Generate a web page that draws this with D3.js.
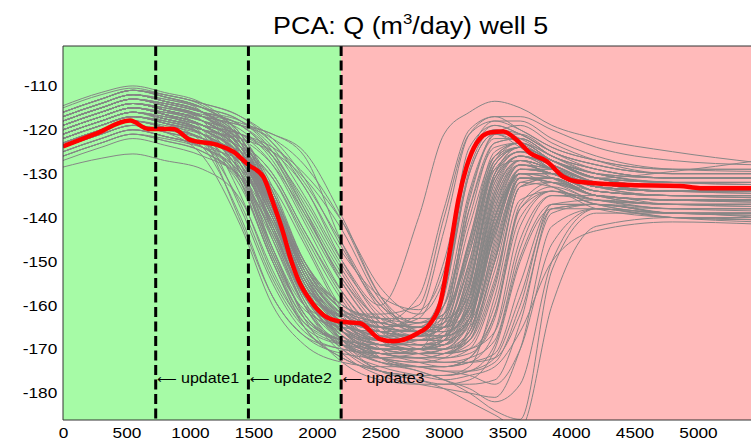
<!DOCTYPE html>
<html>
<head>
<meta charset="utf-8">
<script src="https://cdn.jsdelivr.net/npm/d3@7"></script>
<style>
  body { margin: 0; background: #fff; }
  text { font-family: "Liberation Sans", Arial, sans-serif; }
</style>
</head>
<body>
<div id="chart"></div>
<script>
// days at which each gray realization is sampled
const knotDays = [0, 300, 550, 800, 1100, 1400, 1650, 1900, 2200, 2500, 2800, 3000, 3200, 3400, 3600, 3850, 4200, 4800, 5475];

// gray ensemble members (Q, m3/day)
const grayRuns = [
  [-116,-113,-111,-112.5,-115,-121,-133,-150,-161,-165,-166,-164,-147,-128,-124,-127,-130,-131,-131],
  [-118,-115,-113,-114,-116,-119,-126,-138,-153,-164,-168,-168,-163,-140,-128,-130,-133,-134,-134],
  [-121,-118,-116,-118,-121,-130,-148,-162,-169,-172,-172,-171,-168,-150,-131,-132,-135,-136,-136.5],
  [-119,-116,-114,-115.5,-118,-124,-137,-153,-164,-169,-170,-158,-130,-121,-124,-129,-132,-133,-133.5],
  [-123,-120,-118,-119.5,-122,-127,-140,-156,-167,-172,-174,-174,-173,-166,-142,-134,-136,-137,-137.5],
  [-117,-114,-112,-113,-115,-118,-124,-135,-150,-160,-140,-121,-116,-113.5,-115,-119,-122,-125,-127.5],
  [-120,-117,-115,-116.5,-119,-125,-138,-154,-163,-166,-167,-165,-150,-127,-123,-126,-130,-132,-132.5],
  [-125,-122,-120,-121.5,-124,-133,-150,-165,-172,-175,-176,-176,-175,-172,-158,-138,-137,-139,-139.5],
  [-118,-115,-113,-114.5,-117,-123,-136,-152,-163,-168,-169,-168,-158,-133,-126,-128,-132,-134,-134],
  [-122,-119,-117,-118,-120,-123,-130,-143,-158,-168,-171,-171,-167,-145,-129,-130,-134,-135,-135.5],
  [-115,-112,-110.5,-112,-114.5,-123,-142,-157,-162,-162,-160,-140,-121,-118,-120,-124,-127,-129,-129],
  [-127,-124,-122,-123.5,-126,-131,-144,-160,-171,-176,-178,-179,-180,-181,-170,-142,-138,-140,-140.5],
  [-119,-116,-114,-115,-117,-119,-122,-128,-141,-158,-164,-162,-135,-122,-122,-126,-129,-131,-131],
  [-121,-118,-116,-117.5,-120,-126,-139,-155,-163,-166,-167,-167,-164,-148,-130,-130,-134,-135,-135],
  [-124,-121,-119,-120.5,-123,-129,-141,-156,-166,-170,-170,-167,-148,-129,-127,-131,-135,-137,-137],
  [-116,-113,-111,-112,-114,-117,-123,-133,-148,-158,-161,-152,-124,-119,-121,-125,-128,-130,-130],
  [-120,-117,-115,-116.5,-119,-128,-147,-162,-169,-172,-173,-173,-172,-168,-147,-135,-136,-138,-138],
  [-122,-119,-117,-118.5,-121,-127,-139,-155,-164,-168,-168,-167,-156,-130,-124,-127,-131,-133,-133.5],
  [-118,-115,-113,-114.5,-117,-122,-135,-152,-165,-170,-171,-171,-169,-155,-133,-131,-135,-136,-136],
  [-126,-123,-121,-122,-124,-127,-133,-146,-162,-172,-175,-177,-179,-182,-178,-150,-138,-140,-141],
  [-117,-114,-112,-113.5,-116,-122,-135,-151,-161,-164,-165,-156,-127,-119,-121,-125,-128,-130,-130],
  [-123,-120,-118,-119.5,-122,-131,-149,-163,-168,-169,-169,-169,-164,-140,-130,-131,-135,-136,-136],
  [-119,-116,-114,-115,-117,-120,-127,-140,-155,-165,-167,-165,-145,-125,-123,-127,-131,-132,-132],
  [-121,-118,-116,-117.5,-120,-126,-138,-154,-166,-171,-172,-172,-171,-163,-138,-133,-136,-137,-137.5],
  [-120,-117,-115,-116.5,-119,-125,-136,-150,-160,-163,-164,-162,-148,-127,-124,-127,-131,-133,-133],
  [-124,-121,-119,-120,-122,-125,-131,-144,-159,-168,-170,-170,-166,-143,-130,-130,-133,-134,-134.5],
  [-117,-114,-112,-113.5,-116,-125,-143,-158,-165,-166,-166,-165,-155,-130,-125,-127,-131,-132,-132],
  [-122,-119,-117,-118.5,-121,-127,-140,-157,-168,-173,-174,-175,-175,-173,-160,-137,-137,-139,-139],
  [-118,-115,-113,-114,-116,-119,-125,-137,-152,-164,-168,-164,-138,-123,-122,-126,-130,-131,-131],
  [-125,-122,-120,-121.5,-124,-130,-142,-157,-167,-171,-171,-171,-167,-150,-132,-133,-137,-138,-138],
  [-119,-116,-114,-115.5,-118,-124,-137,-153,-164,-168,-169,-169,-162,-138,-127,-129,-133,-134,-134],
  [-121,-118,-116,-117,-119,-121,-124,-130,-141,-156,-162,-154,-127,-120,-122,-126,-129,-131,-131],
  [-128.5,-126.5,-125.5,-127,-129,-136,-152,-165,-172,-175,-176,-176,-174,-158,-136,-134,-138,-140,-140.5],
  [-120,-117,-115,-116.5,-119,-125,-138,-154,-165,-169,-170,-168,-152,-130,-125,-129,-133,-135,-135],
  [-116,-113,-111,-112.5,-115,-121,-134,-150,-161,-164,-165,-165,-161,-144,-129,-129,-132,-133,-133.5],
  [-123,-120,-118,-119,-121,-124,-131,-145,-161,-170,-173,-174,-173,-171,-155,-137,-136,-137,-137],
  [-119,-116,-114,-115.5,-118,-124,-137,-152,-162,-165,-162,-143,-121,-117,-120,-124,-127,-129,-129],
  [-122,-119,-117,-118.5,-121,-130,-148,-162,-168,-170,-170,-169,-158,-132,-126,-128,-132,-134,-134],
  [-121,-118,-116,-117.5,-120,-126,-138,-154,-164,-168,-168,-168,-165,-149,-131,-131,-135,-136,-136],
  [-118,-115,-113,-114,-116,-119,-126,-139,-154,-163,-165,-164,-155,-131,-125,-127,-131,-132,-132.5],
  [-124,-121,-119,-120.5,-123,-129,-141,-157,-169,-175,-177,-179,-182,-185,-188,-160,-142,-140,-140.5],
  [-120,-117,-115,-116.5,-119,-125,-137,-153,-163,-166,-167,-157,-130,-121,-123,-127,-130,-132,-132],
  [-117,-114,-112,-113,-115,-118,-125,-138,-155,-166,-170,-171,-170,-162,-137,-132,-134,-135,-135],
  [-126,-123,-121,-122.5,-125,-131,-143,-158,-168,-172,-173,-172,-165,-141,-130,-133,-137,-139,-139],
  [-121,-118,-116,-117.5,-120,-129,-147,-160,-164,-165,-166,-164,-146,-126,-123,-127,-131,-133,-133],
  [-119,-116,-114,-115.5,-118,-124,-136,-153,-166,-171,-172,-173,-173,-172,-162,-139,-137,-138,-138.5],
  [-122,-119,-117,-118,-120,-122,-125,-131,-143,-159,-166,-167,-163,-142,-130,-130,-133,-134,-134],
  [-118,-115,-113,-114.5,-117,-123,-135,-151,-163,-168,-169,-167,-152,-128,-124,-127,-131,-133,-133],
  [-123,-120,-118,-119.5,-122,-128,-140,-156,-168,-173,-175,-177,-180,-184,-186,-152,-139,-139,-140],
  [-120,-117,-115,-116,-118,-121,-128,-141,-157,-167,-171,-172,-170,-156,-133,-132,-135,-136,-136],
  [-116,-113,-111,-112.5,-115,-121,-134,-151,-162,-166,-167,-162,-136,-121,-121,-125,-129,-131,-131],
  [-124,-121,-119,-120.5,-123,-132,-150,-164,-169,-171,-171,-171,-170,-166,-145,-135,-135,-137,-137],
  [-121,-118,-116,-117.5,-120,-126,-137,-151,-160,-163,-163,-163,-158,-136,-127,-129,-133,-134,-134],
  [-119,-116,-114,-115.5,-118,-124,-137,-155,-168,-175,-177,-178,-178,-177,-164,-138,-137,-139,-139],
  [-122,-119,-117,-118,-120,-123,-130,-143,-157,-166,-168,-167,-156,-130,-124,-127,-130,-132,-132],
  [-118,-115,-113,-114.5,-117,-126,-145,-160,-166,-168,-167,-156,-129,-120,-121,-125,-128,-130,-130],
  [-117,-114,-112,-113.5,-116,-122,-134,-150,-160,-164,-165,-163,-145,-126,-123,-127,-131,-129.5,-127],
  [-120,-117,-115,-116,-117,-119,-121,-126,-146,-161,-166,-166,-160,-138,-128,-129,-133,-134,-134],
  [-123,-120,-118,-119.5,-124,-140,-158,-167,-171,-172,-171,-170,-163,-140,-131,-132,-136,-137,-137],
  [-125,-122,-120,-121.5,-124,-131,-145,-160,-170,-174,-176,-177,-176,-174,-166,-150,-143,-141,-141.5],
  [-118,-115,-113,-114.5,-118,-132,-150,-163,-168,-170,-170,-169,-160,-135,-127,-129,-133,-134,-134],
  [-120,-117,-115,-116.5,-121,-138,-155,-166,-170,-171,-171,-170,-166,-147,-131,-131,-135,-136,-136],
  [-116,-113,-111,-112.5,-116,-130,-149,-161,-165,-166,-165,-160,-138,-124,-123,-127,-130,-132,-132],
  [-122,-119,-117,-118.5,-123,-137,-154,-165,-169,-170,-170,-168,-153,-131,-126,-129,-133,-135,-135],
  [-119,-116,-114,-115.5,-120,-135,-153,-164,-168,-169,-168,-163,-142,-126,-124,-128,-132,-133,-133],
  [-124,-121,-119,-120.5,-126,-142,-160,-169,-173,-174,-174,-174,-172,-162,-140,-134,-136,-138,-138],
  [-117,-114,-112,-113.5,-116,-124,-139,-156,-165,-168,-168,-166,-150,-128,-124,-127,-131,-133,-133],
  [-121,-118,-116,-117.5,-120,-127,-142,-158,-167,-170,-171,-170,-164,-143,-129,-130,-134,-135,-135.5],
  [-123,-120,-118,-119.5,-122,-128,-143,-159,-168,-171,-172,-171,-166,-146,-131,-132,-135,-137,-137],
  [-119,-116,-114,-115.5,-118,-125,-139,-155,-164,-167,-167,-165,-151,-129,-125,-128,-132,-134,-134],
  [-120,-117,-115,-116.5,-119,-126,-140,-157,-166,-169,-170,-169,-161,-137,-128,-130,-134,-135,-135],
  [-118,-115,-113,-114.5,-117,-124,-138,-154,-164,-167,-168,-167,-159,-135,-127,-129,-133,-134,-134.5],
  [-122,-119,-117,-118.5,-121,-127,-140,-156,-166,-170,-171,-171,-168,-152,-132,-131,-135,-136,-136],
  [-125,-122,-120,-121.5,-124,-130,-144,-160,-169,-173,-174,-174,-172,-160,-138,-134,-137,-139,-139],
  [-120,-117,-115,-116,-118,-121,-126,-136,-151,-162,-166,-166,-161,-139,-128,-129,-133,-134,-134],
  [-118,-115,-113,-114,-116,-118,-123,-132,-146,-160,-165,-165,-158,-134,-126,-128,-132,-133,-133],
  [-121,-118,-116,-117,-119,-122,-128,-139,-154,-165,-169,-170,-168,-154,-133,-131,-135,-136,-136.5],
  [-116,-113,-111,-112,-114,-117,-122,-131,-147,-160,-164,-162,-146,-127,-124,-127,-131,-132,-132],
  [-119,-116,-114,-115.5,-118,-124,-136,-152,-162,-164,-158,-138,-120,-117,-117,-120,-124,-127,-128],
  [-117,-114,-112,-113.5,-116,-122,-135,-151,-161,-165,-163,-150,-126,-118,-118,-122,-126,-129,-129.5],
  [-121,-118,-116,-117.5,-120,-126,-139,-155,-165,-168,-167,-160,-134,-121,-119,-123,-127,-130,-130],
  [-126,-123,-121,-122.5,-125,-132,-147,-163,-173,-177,-178,-178,-177,-170,-150,-138,-138,-140,-140],
  [-122,-119,-117,-118.5,-121,-128,-142,-159,-170,-175,-176,-176,-175,-169,-149,-137,-137,-139,-139],
  [-120,-117,-115,-116.5,-119,-125,-139,-156,-167,-172,-174,-175,-176,-178,-170,-146,-138,-139,-139.5],
  [-119,-116,-114,-115.5,-118,-124,-138,-154,-165,-169,-169,-168,-160,-136,-128,-130,-134,-135,-135],
  [-123,-120,-118,-119.5,-122,-128,-141,-157,-166,-169,-170,-169,-163,-142,-130,-131,-135,-136,-136],
  [-117,-114,-112,-113.5,-116,-123,-137,-153,-163,-167,-167,-165,-154,-131,-126,-128,-132,-133,-133],
  [-121,-118,-116,-117.5,-120,-126,-140,-156,-166,-170,-170,-170,-167,-150,-131,-131,-135,-136,-136],
  [-120,-117,-115,-116.5,-119,-125,-138,-154,-164,-167,-168,-167,-160,-140,-129,-130,-134,-135,-135],
  [-118,-115,-113,-114.5,-117,-123,-136,-152,-162,-165,-166,-165,-157,-134,-127,-129,-132,-134,-134],
  [-119,-116,-114,-115,-116.5,-118.5,-121,-125,-140,-158,-166,-166,-162,-142,-129,-129,-133,-134,-134],
  [-121,-118,-116,-117,-119,-121,-125,-133,-150,-163,-167,-167,-163,-144,-130,-130,-134,-135,-135],
  [-120,-117,-115,-116.5,-122,-141,-158,-167,-170,-171,-170,-168,-155,-132,-126,-129,-133,-134,-134],
  [-114.5,-111.5,-110,-111.5,-114,-122,-138,-155,-163,-165,-164,-160,-140,-123,-122,-126,-129,-131,-131]
];

// red reference curve
const redDays = [0, 250, 528, 672, 869, 1000, 1210, 1340, 1460, 1577, 1656, 1735, 1787, 1853, 1945, 2050, 2181, 2339, 2496, 2601, 2785, 2890, 2969, 3047, 3113, 3178, 3257, 3362, 3467, 3572, 3677, 3809, 3940, 4045, 4465, 4858, 5016, 5475];
const redQ = [-123.8, -121, -117.9, -119.8, -119.8, -122.3, -123.4, -125, -128, -130.7, -136.8, -143.6, -148.9, -154.2, -158.8, -162.2, -163.7, -164.1, -167.7, -168.2, -166.5, -164.2, -159.7, -147.5, -136, -128.4, -123, -120.6, -120.4, -122.3, -125.3, -127.2, -130.7, -131.8, -132.6, -132.8, -133.3, -133.3];

const updateDays = [730, 1460, 2190];
const updateLabels = ["update1", "update2", "update3"];
const labelQ = -176.6;

const xTicks = [0, 500, 1000, 1500, 2000, 2500, 3000, 3500, 4000, 4500, 5000];
const yTicks = [-180, -170, -160, -150, -140, -130, -120, -110];

const width = 751, height = 442;
const plotLeft = 63, plotTop = 46, plotBottom = 420;
const stretch = 1.15; // the source text is rendered a bit wide

const x = d3.scaleLinear().domain([0, 5475]).range([plotLeft, plotLeft + 5475 * 0.127]);
const y = d3.scaleLinear().domain([-186.15, -100.9]).range([plotBottom, plotTop]);

const svg = d3.select("#chart").append("svg")
  .attr("width", width)
  .attr("height", height);

svg.append("defs").append("clipPath").attr("id", "plot")
  .append("rect")
  .attr("x", x(0)).attr("y", plotTop)
  .attr("width", x(5475) - x(0)).attr("height", plotBottom - plotTop);

// history-match (green) and forecast (pink) periods
svg.append("rect")
  .attr("x", x(0)).attr("y", plotTop)
  .attr("width", x(2190) - x(0)).attr("height", plotBottom - plotTop)
  .attr("fill", "#a6fba6");
svg.append("rect")
  .attr("x", x(2190)).attr("y", plotTop)
  .attr("width", x(5475) - x(2190)).attr("height", plotBottom - plotTop)
  .attr("fill", "#ffbaba");

const plot = svg.append("g").attr("clip-path", "url(#plot)");

const grayLine = d3.line()
  .x((d, i) => x(knotDays[i]))
  .y(d => y(d))
  .curve(d3.curveMonotoneX);

plot.selectAll(".run")
  .data(grayRuns)
  .join("path")
  .attr("class", "run")
  .attr("d", grayLine)
  .attr("fill", "none")
  .attr("stroke", "#868686")
  .attr("stroke-width", 1);

const redLine = d3.line()
  .x((d, i) => x(redDays[i]))
  .y(d => y(d))
  .curve(d3.curveMonotoneX);

plot.append("path")
  .datum(redQ)
  .attr("d", redLine)
  .attr("fill", "none")
  .attr("stroke", "#ff0000")
  .attr("stroke-width", 4.5)
  .attr("stroke-linejoin", "round");

plot.selectAll(".upd")
  .data(updateDays)
  .join("line")
  .attr("class", "upd")
  .attr("x1", d => x(d)).attr("x2", d => x(d))
  .attr("y1", plotTop).attr("y2", plotBottom)
  .attr("stroke", "#000")
  .attr("stroke-width", 3)
  .attr("stroke-dasharray", "10,4.5");

const labels = svg.selectAll(".updlabel")
  .data(updateDays)
  .join("text")
  .attr("class", "updlabel")
  .attr("transform", d => `translate(${x(d) + 1},${y(labelQ)}) scale(${stretch},1)`)
  .attr("dy", "0.35em")
  .attr("font-size", 14)
  .attr("fill", "#000");
labels.append("tspan")
  .style("font-family", "'DejaVu Sans', sans-serif")
  .attr("font-size", 12)
  .text("\u27F5");
labels.append("tspan").text((d, i) => " " + updateLabels[i]);

// axes (MATLAB style, no tick marks visible)
const xAxis = svg.append("g")
  .attr("transform", `translate(0,${plotBottom})`)
  .call(d3.axisBottom(x).tickValues(xTicks).tickSize(0).tickPadding(7).tickFormat(d => String(d)));
const yAxis = svg.append("g")
  .attr("transform", `translate(${plotLeft},0)`)
  .call(d3.axisLeft(y).tickValues(yTicks).tickSize(0).tickPadding(5).tickFormat(d => String(d)));

[xAxis, yAxis].forEach(g => {
  g.select(".domain").remove();
  g.selectAll("text").attr("font-size", 15).attr("fill", "#000")
    .attr("transform", `scale(${stretch},1)`)
    .style("font-family", "'Liberation Sans', Arial, sans-serif");
});

// box
svg.append("path")
  .attr("d", `M${x(5475)},${plotTop}H${plotLeft}V${plotBottom}H${x(5475)}`)
  .attr("fill", "none")
  .attr("stroke", "#333")
  .attr("stroke-width", 1);

// title with superscript
const title = svg.append("text")
  .attr("transform", `translate(${(plotLeft + x(5475)) / 2},34) scale(1.12,1)`)
  .attr("text-anchor", "middle")
  .attr("font-size", 24)
  .attr("fill", "#000");
title.append("tspan").text("PCA: Q (m");
title.append("tspan").attr("font-size", 15).attr("dy", -10).text("3");
title.append("tspan").attr("dy", 10).text("/day) well 5");
</script>
</body>
</html>
